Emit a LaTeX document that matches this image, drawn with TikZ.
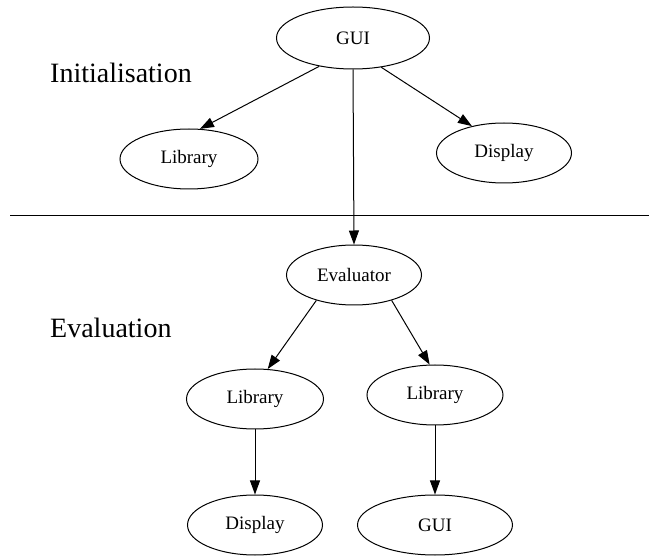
\documentclass[tikz,border=0pt]{standalone}
\usepackage{fontspec}
\setmainfont{Liberation Serif}
\usepackage{tikz}
\usetikzlibrary{shapes.geometric,arrows.meta}

\tikzset{
	module/.style={ellipse,draw,line width=1pt,inner sep=0pt,font=\fontsize{19}{22}\selectfont},
	phase/.style={anchor=base west,inner sep=0pt,font=\fontsize{28}{32}\selectfont},
	call/.style={-{Triangle[length=14pt,width=10pt]},line width=1pt}
}

\begin{document}
\begin{tikzpicture}[x=1pt,y=-1pt]
	\useasboundingbox (0,0) rectangle (649,556);

	\node[phase] (initLabel) at (50,83) {Initialisation};
	\node[phase] (evalLabel) at (50,338) {Evaluation};

	\node[module,minimum width=153pt,minimum height=62pt] (guiTop) at (353,38) {GUI};
	\node[module,minimum width=138pt,minimum height=60pt] (libInit) at (189,159) {Library};
	\node[module,minimum width=135pt,minimum height=60pt] (dispInit) at (504,153) {Display};

	\node[module,minimum width=135pt,minimum height=60pt] (evaluator) at (354,275) {Evaluator};
	\node[module,minimum width=137pt,minimum height=60pt] (libLeft) at (255,399) {Library};
	\node[module,minimum width=136pt,minimum height=60pt] (libRight) at (435,395) {Library};
	\node[module,minimum width=135pt,minimum height=60pt] (dispBottom) at (255,525) {Display};
	\node[module,minimum width=155pt,minimum height=60pt] (guiBottom) at (435,525) {GUI};

	\coordinate (sepLeft) at (10,216);
	\coordinate (sepRight) at (649,216);
	\draw[line width=1pt] (sepLeft) -- (sepRight);

\draw[call](guiTop.220) -- (libInit.70);
\draw[call](guiTop.314) -- (dispInit.140);
\draw[call](guiTop.south) -- (evaluator.north);
\draw[call](evaluator.214) -- (libLeft.67);
\draw[call](evaluator.326) -- (libRight.100);
\draw[call](libLeft.south) -- (dispBottom.north);
\draw[call](libRight.south) -- (guiBottom.north);

\end{tikzpicture}
\end{document}
